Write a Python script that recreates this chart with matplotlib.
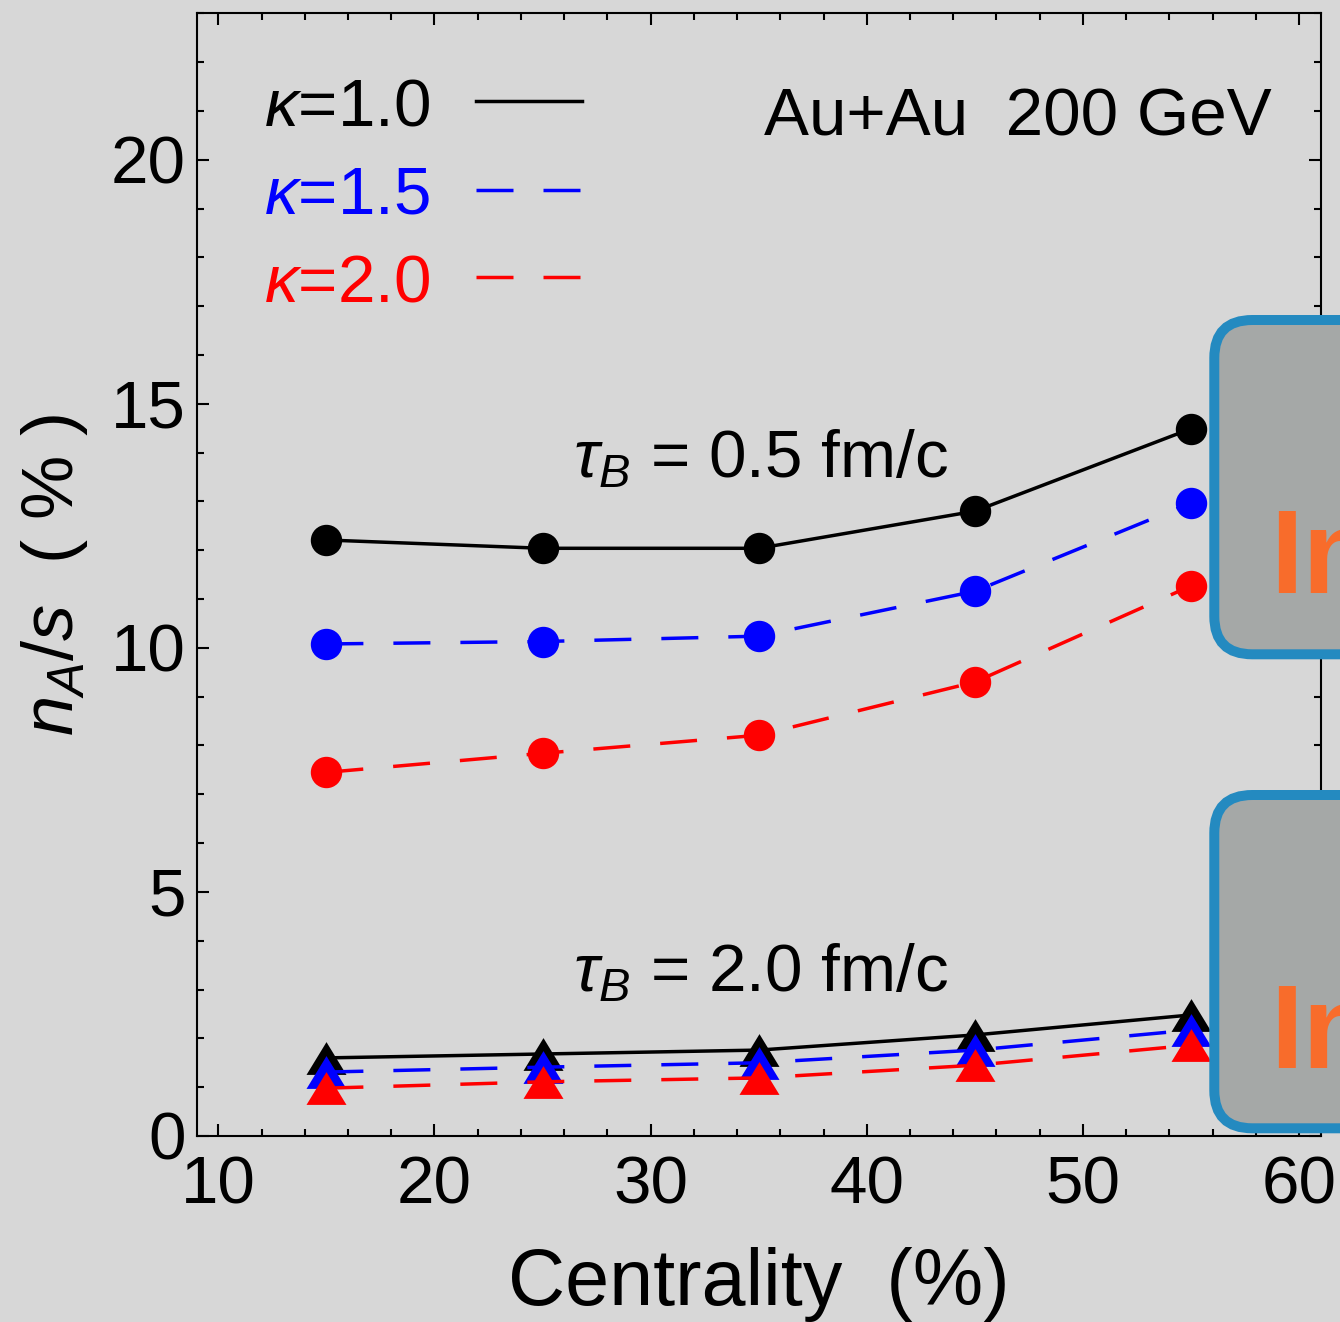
import matplotlib
matplotlib.use("Agg")
import matplotlib.pyplot as plt
from matplotlib.patches import FancyBboxPatch
from matplotlib.lines import Line2D
from matplotlib.transforms import IdentityTransform
from matplotlib.ticker import MultipleLocator

plt.rcParams['font.family'] = ['Liberation Sans', 'DejaVu Sans']
plt.rcParams['mathtext.fontset'] = 'custom'
plt.rcParams['mathtext.rm'] = 'Liberation Sans'
plt.rcParams['mathtext.it'] = 'Liberation Sans:italic'
plt.rcParams['mathtext.bf'] = 'Liberation Sans:bold'

# ---- data ----
centrality = [15, 25, 35, 45, 55]
tau05_k10 = [12.21, 12.04, 12.04, 12.80, 14.49]
tau05_k15 = [10.08, 10.13, 10.24, 11.16, 12.97]
tau05_k20 = [7.45, 7.84, 8.21, 9.30, 11.27]
tau20_k10 = [1.60, 1.68, 1.76, 2.07, 2.48]
tau20_k15 = [1.31, 1.41, 1.50, 1.76, 2.17]
tau20_k20 = [0.98, 1.11, 1.19, 1.45, 1.86]
kappa_labels = [r'$\kappa$=1.0', r'$\kappa$=1.5', r'$\kappa$=2.0']
colors = ['black', 'blue', 'red']
xticks = [10, 20, 30, 40, 50, 60]
yticks = [0, 5, 10, 15, 20]

W, H = 1340, 1322
BG = '#d7d7d7'
FS = 48.5
fig = plt.figure(figsize=(W / 100, H / 100), dpi=100, facecolor=BG)
ax = fig.add_axes([196.7 / W, 1 - 1136 / H, (1320.7 - 196.7) / W, (1136 - 13.3) / H])
ax.set_facecolor(BG)

lw = 2.5
lwpx = lw * 100 / 72
dash = (0, (37 / lwpx, 30 / lwpx))
styles = ['-', dash, dash]

tri = [(0, 0.82), (-1, -0.82), (1, -0.82)]
circ_series = [tau05_k10, tau05_k15, tau05_k20]
tri_series = [tau20_k10, tau20_k15, tau20_k20]
for i in range(3):
    ax.plot(centrality, circ_series[i], color=colors[i], ls=styles[i], lw=lw,
            marker='o', ms=21.6, mec=colors[i], mfc=colors[i], zorder=3 + i)
for i in range(3):
    ax.plot(centrality, tri_series[i], color=colors[i], ls=styles[i], lw=lw,
            marker=tri, ms=28.8, mec=colors[i], mfc=colors[i], mew=0, zorder=3 + i)

ax.set_xlim(9, 61)
ax.set_ylim(0, 23)
ax.set_xticks(xticks)
ax.set_yticks(yticks)
ax.xaxis.set_minor_locator(MultipleLocator(2))
ax.yaxis.set_minor_locator(MultipleLocator(1))
ax.tick_params(which='both', direction='in', top=True, right=True, width=1.5,
               labelsize=FS, colors='black')
ax.tick_params(which='major', length=8.5)
ax.tick_params(which='minor', length=5)
ax.tick_params(axis='x', which='major', pad=14)
ax.tick_params(axis='y', which='major', pad=8)
for s in ax.spines.values():
    s.set_linewidth(1.5)

ax.set_xlabel('Centrality  (%)', fontsize=57, labelpad=21)
ax.set_ylabel(r'$n_A/s$  ( % )', fontsize=52, labelpad=15)

def fx(px):
    return px / W

def fy(py):
    return 1 - py / H

# legend (manual)
leg_base = [126, 213, 302]
leg_line = [101, 190, 277]
for i in range(3):
    fig.text(fx(264), fy(leg_base[i]), kappa_labels[i], color=colors[i], fontsize=FS,
             ha='left', va='baseline')
    fig.add_artist(Line2D([fx(476), fx(582)], [fy(leg_line[i])] * 2, color=colors[i],
                          lw=lw, ls=styles[i]))

fig.text(fx(764), fy(136), 'Au+Au  200 GeV', fontsize=FS, ha='left', va='baseline')
fig.text(fx(573), fy(477), r'$\tau_B$ = 0.5 fm/c', fontsize=FS, ha='left', va='baseline')
fig.text(fx(573), fy(992), r'$\tau_B$ = 2.0 fm/c', fontsize=FS, ha='left', va='baseline')

# overlay boxes
for top, bot, base in [(320, 654.3, 593), (795, 1128.3, 1068)]:
    p = FancyBboxPatch((1214.3, H - bot), 400, bot - top,
                       boxstyle='round,pad=0,rounding_size=38',
                       fc='#a5a8a7', ec='#248ac0', lw=7.2,
                       transform=IdentityTransform(), zorder=10)
    fig.add_artist(p)
    fig.text(fx(1270), fy(base), 'In', fontsize=85, fontweight='bold', color='#f86c2b',
             family='Liberation Sans', ha='left', va='baseline', zorder=11)

fig.savefig('out.png', dpi=100, facecolor=BG)
